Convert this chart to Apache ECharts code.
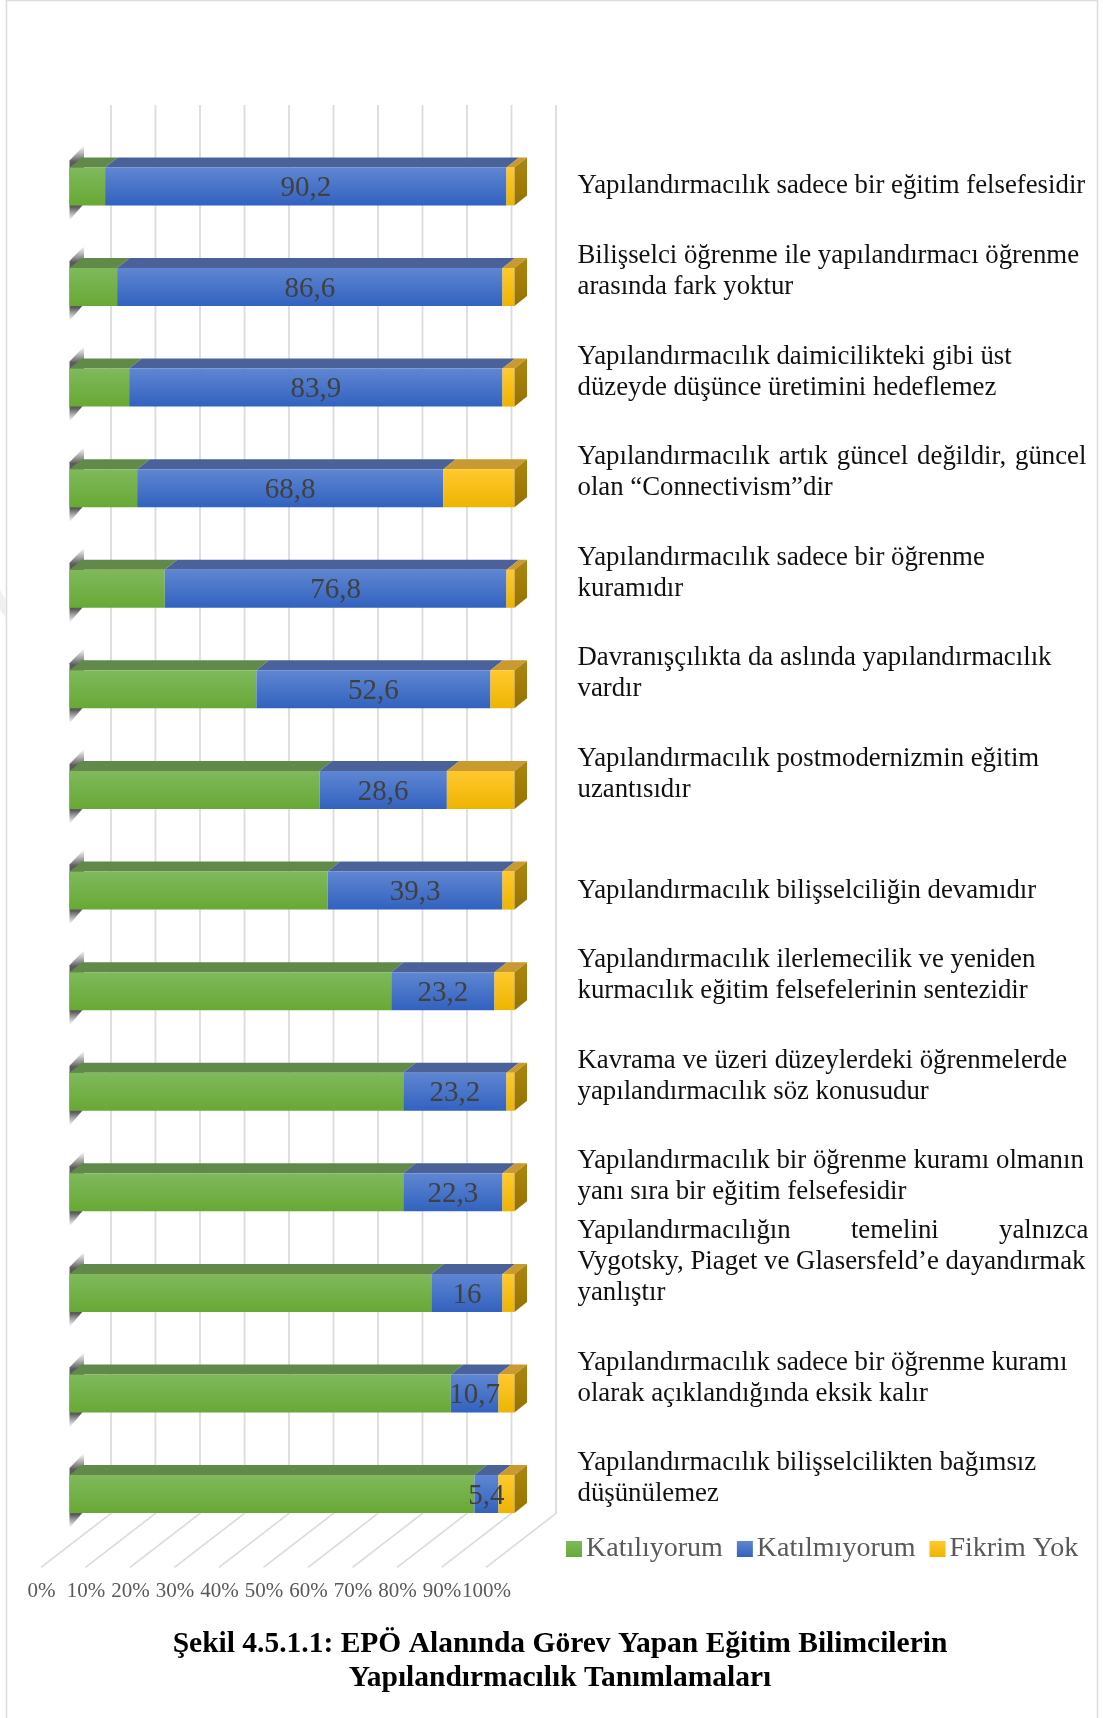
<!DOCTYPE html>
<html>
<head>
<meta charset="utf-8">
<style>html,body{margin:0;padding:0;background:#fff}#c{width:1103px;height:1718px}</style>
<script src="https://cdn.jsdelivr.net/npm/echarts@6/dist/echarts.min.js"></script>
</head>
<body>
<div id="c"></div>
<script>
const nb = n => '\u00a0'.repeat(n);
const hair = ' \u200a';
const categories = [
  'Yapılandırmacılık sadece bir eğitim felsefesidir',
  'Bilişselci öğrenme ile yapılandırmacı öğrenme\narasında fark yoktur',
  'Yapılandırmacılık daimicilikteki gibi üst\ndüzeyde düşünce üretimini hedeflemez',
  'Yapılandırmacılık' + hair + 'artık' + hair + 'güncel' + hair + 'değildir,' + hair + 'güncel\nolan “Connectivism”dir',
  'Yapılandırmacılık sadece bir öğrenme\nkuramıdır',
  'Davranışçılıkta da aslında yapılandırmacılık\nvardır',
  'Yapılandırmacılık postmodernizmin eğitim\nuzantısıdır',
  'Yapılandırmacılık bilişselciliğin devamıdır',
  'Yapılandırmacılık ilerlemecilik ve yeniden\nkurmacılık eğitim felsefelerinin sentezidir',
  'Kavrama ve üzeri düzeylerdeki öğrenmelerde\nyapılandırmacılık söz konusudur',
  'Yapılandırmacılık bir öğrenme kuramı olmanın\nyanı sıra bir eğitim felsefesidir',
  'Yapılandırmacılığın' + nb(9) + 'temelini' + nb(9) + 'yalnızca\nVygotsky, Piaget ve Glasersfeld’e dayandırmak\nyanlıştır',
  'Yapılandırmacılık sadece bir öğrenme kuramı\nolarak açıklandığında eksik kalır',
  'Yapılandırmacılık bilişselcilikten bağımsız\ndüşünülemez'
];
const katiliyorum  = [8.0, 10.7, 13.4, 15.2, 21.4, 42.0, 56.2, 58.0, 72.3, 75.0, 75.0, 81.3, 85.7, 91.0];
const katilmiyorum = [90.2, 86.6, 83.9, 68.8, 76.8, 52.6, 28.6, 39.3, 23.2, 23.2, 22.3, 16, 10.7, 5.4];
const fikrimYok    = [1.8, 2.7, 2.7, 16.0, 1.8, 5.4, 15.2, 2.7, 4.5, 1.8, 2.7, 2.7, 3.6, 3.6];
const xTicks = [0, 10, 20, 30, 40, 50, 60, 70, 80, 90, 100];
const seriesNames = ['Katılıyorum', 'Katılmıyorum', 'Fikrim Yok'];
const titleText = 'Şekil 4.5.1.1: EPÖ Alanında Görev Yapan Eğitim Bilimcilerin\nYapılandırmacılık Tanımlamaları';

const SERIF = '"Liberation Serif","Times New Roman",serif';
const grad = (a, b) => new echarts.graphic.LinearGradient(0, 0, 0, 1, [{offset:0,color:a},{offset:1,color:b}]);
const DX = 12.5, DY = 10, BAR = 0.378;

const palette = [
  {front:['#7fb95c','#69a836'], top:'#60894a', side:null},
  {front:['#5f86d2','#3262bf'], top:'#4a6299', side:null},
  {front:['#ffc92f','#eeb400'], top:'#c89a30', side:['#ad860f','#957200']}
];

function barRender(si, showLabel) {
  return function (params, api) {
    const s = api.value(0), e = api.value(1), c = api.value(2), v = api.value(3);
    const p0 = api.coord([s, c]), p1 = api.coord([e, c]);
    const h = api.size([0, 1])[1] * BAR;
    const y0 = p0[1] - h / 2, x0 = p0[0], x1 = p1[0];
    const col = palette[si];
    const ch = [
      {type:'polygon', shape:{points:[[x0,y0],[x0+DX,y0-DY],[x1+DX,y0-DY],[x1,y0]]}, style:{fill:col.top}},
      {type:'rect', shape:{x:x0,y:y0,width:x1-x0,height:h}, style:{fill:grad(col.front[0],col.front[1])}}
    ];
    if (col.side) ch.push({type:'polygon', shape:{points:[[x1,y0],[x1+DX,y0-DY],[x1+DX,y0+h-DY],[x1,y0+h]]}, style:{fill:grad(col.side[0],col.side[1])}});
    if (showLabel) ch.push({type:'text', z2:100, style:{x:(x0+x1)/2, y:y0+h/2+2, text:String(v).replace('.',','), align:'center', verticalAlign:'middle', font:'29px '+SERIF, fill:'#404040'}});
    return {type:'group', children:ch};
  };
}

function cum(i) {
  return categories.map((_, k) => {
    const a = katiliyorum[k], b = katilmiyorum[k];
    const starts = [0, a, a + b];
    const vals = [a, b, fikrimYok[k]];
    const end = i === 2 ? 100 : starts[i] + vals[i];
    return [starts[i], end, k, vals[i]];
  });
}

const option = {
  animation: false,
  backgroundColor: '#fff',
  title: {
    text: titleText, left: 555, top: 1622, textAlign: 'center',
    textStyle: {fontFamily: SERIF, fontSize: 29.5, fontWeight: 'bold', color: '#000', lineHeight: 34}
  },
  legend: {
    data: seriesNames, left: 566, top: 1535, icon: 'rect', itemWidth: 16, itemHeight: 16, itemGap: 14,
    selectedMode: false, padding: 0,
    textStyle: {fontFamily: SERIF, fontSize: 28, color: '#595959', padding:[0,0,0,-1]}
  },
  grid: {left: 69.5, width: 445, top: 136.1, height: 1408.3},
  xAxis: {
    type: 'value', min: 0, max: 100, interval: 10,
    axisLine: {show:false}, axisTick: {show:false}, splitLine: {show:false},
    axisLabel: {formatter: '{value}%', fontFamily: SERIF, fontSize: 21, color: '#595959', margin: 37, padding: [0,56,0,0], hideOverlap:false, showMinLabel:true, showMaxLabel:true}
  },
  yAxis: {
    type: 'category', inverse: true, position: 'right',
    // blank trailing lines lift multi-line labels, as in the source layout
    data: categories.map(t => t + '\n'.repeat(t.split('\n').length - 1)),
    axisLine: {show:false}, axisTick: {show:false}, splitLine: {show:false},
    axisLabel: {interval: 0, margin: 63, align: 'left', fontFamily: SERIF, fontSize: 26.8, lineHeight: 31, color: '#111', hideOverlap:false}
  },
  graphic: [
    {type:'rect', z:-10, silent:true, shape:{x:6.5,y:0.5,width:1091,height:1720}, style:{fill:'none',stroke:'#dcdcdc',lineWidth:1.5}},
    {type:'polygon', z:-10, silent:true, shape:{points:[[0,590],[6,600],[6,618],[0,610]]}, style:{fill:'#f0f0f0'}}
  ],
  series: [
    {
      name: 'wall', type: 'custom', coordinateSystem: 'cartesian2d', silent: true, z: 1,
      encode: {x: 0, y: 1},
      data: xTicks.map(v => [v, 0]),
      renderItem(params, api) {
        const cs = params.coordSys;
        const x = api.coord([api.value(0), 0])[0];
        const bottom = cs.y + cs.height;
        return {type:'polyline', shape:{points:[[x+41.5, cs.y-31],[x+41.5, bottom-31],[x-28.5, bottom+23]]},
          style:{fill:'none', stroke:'#dcdcdc', lineWidth:1.8}};
      }
    },
    {
      name: 'wedge', type: 'custom', coordinateSystem: 'cartesian2d', silent: true, z: 2,
      encode: {x: 0, y: 1},
      data: categories.map((_, k) => [0, k]),
      renderItem(params, api) {
        const p = api.coord([0, api.value(1)]);
        const h = api.size([0, 1])[1] * BAR, y0 = p[1] - h / 2, x = p[0];
        const grd = new echarts.graphic.LinearGradient(0,0,0,1,[
          {offset:0,color:'rgba(110,110,110,0)'},{offset:0.22,color:'#5a5a5a'},{offset:0.82,color:'#5a5a5a'},{offset:1,color:'rgba(110,110,110,0)'}
        ]);
        return {type:'polygon', shape:{points:[[x,y0-7],[x+14.5,y0-22],[x+14.5,y0+h-2],[x,y0+h+15]]}, style:{fill:grd}};
      }
    },
    {name: seriesNames[0], type:'custom', coordinateSystem:'cartesian2d', z:3, encode:{x:[0,1],y:2},
      itemStyle:{color:grad('#7fb95c','#69a836')}, data:cum(0), renderItem:barRender(0,false)},
    {name: seriesNames[1], type:'custom', coordinateSystem:'cartesian2d', z:3, encode:{x:[0,1],y:2},
      itemStyle:{color:grad('#5f86d2','#3262bf')}, data:cum(1), renderItem:barRender(1,true)},
    {name: seriesNames[2], type:'custom', coordinateSystem:'cartesian2d', z:3, encode:{x:[0,1],y:2},
      itemStyle:{color:grad('#ffc92f','#eeb400')}, data:cum(2), renderItem:barRender(2,false)}
  ]
};
const chart = echarts.init(document.getElementById('c'), null, {renderer:'canvas', width:1103, height:1718});
chart.setOption(option);
</script>
</body>
</html>
